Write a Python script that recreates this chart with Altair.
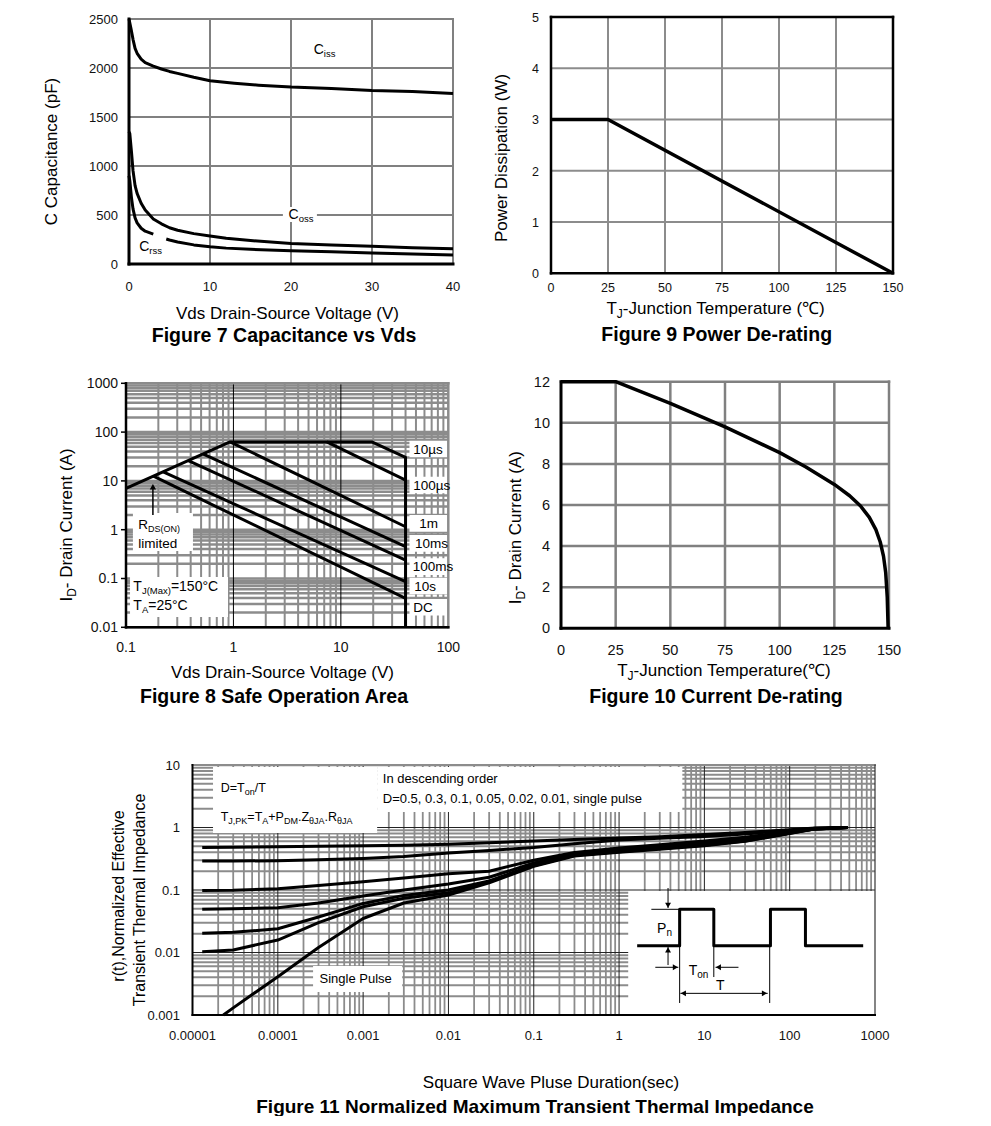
import altair as alt
import pandas as pd

FONT = "Liberation Sans"
INK = "#000000"
GRAY = "#8c8c8c"
LABEL = "#111111"
OFF = 8  # page margin: chart coordinates = page coordinates - 8

# ---------------- Figure 7 : Capacitance vs Vds ----------------
f7_x_ticks = [0, 10, 20, 30, 40]
f7_x_labels = ["0", "10", "20", "30", "40"]
f7_y_ticks = [0, 500, 1000, 1500, 2000, 2500]
f7_y_labels = ["0", "500", "1000", "1500", "2000", "2500"]
f7_grid_x = [10, 20, 30]
f7_grid_y = [500, 1000, 1500, 2000]
f7_ciss_v = [0, 0.25, 0.5, 0.75, 1, 1.5, 2, 3, 4, 5, 6, 8, 10, 13, 16, 20, 25, 30, 35, 40]
f7_ciss_c = [2500, 2400, 2290, 2200, 2150, 2090, 2055, 2020, 1990, 1965, 1945, 1905, 1870, 1845, 1825, 1805, 1790, 1770, 1760, 1740]
f7_coss_v = [0, 0.1, 0.3, 0.5, 0.75, 1, 1.5, 2, 3, 4, 5, 6, 8, 10, 12, 15, 20, 25, 30, 35, 40]
f7_coss_c = [1350, 1330, 1150, 950, 800, 720, 620, 550, 460, 410, 370, 345, 310, 285, 262, 240, 210, 195, 180, 165, 155]
f7_crss_a_v = [0, 0.1, 0.3, 0.5, 0.75, 1, 1.5, 2, 3]
f7_crss_a_c = [900, 850, 680, 560, 470, 420, 365, 335, 305]
f7_crss_b_v = [4.6, 5, 6, 8, 10, 12, 15, 20, 25, 30, 35, 40]
f7_crss_b_c = [255, 245, 225, 195, 175, 162, 150, 135, 125, 112, 102, 92]
f7_lbl_ciss = (22.8, 2190)
f7_lbl_coss = (19.7, 510)
f7_lbl_crss = (1.25, 177)
f7_coss_box = ([19.0], [23.2], [582], [429])

# ---------------- Figure 9 : Power De-rating ----------------
f9_x_ticks = [0, 25, 50, 75, 100, 125, 150]
f9_x_labels = ["0", "25", "50", "75", "100", "125", "150"]
f9_y_ticks = [0, 1, 2, 3, 4, 5]
f9_y_labels = ["0", "1", "2", "3", "4", "5"]
f9_grid_x = [25, 50, 75, 100, 125]
f9_grid_y = [1, 2, 3, 4]
f9_temp = [0, 25, 150]
f9_power = [3, 3, 0]

# ---------------- Figure 8 : Safe Operation Area ----------------
f8_x_ticks = [0.1, 1, 10, 100]
f8_x_labels = ["0.1", "1", "10", "100"]
f8_y_ticks = [0.01, 0.1, 1, 10, 100, 1000]
f8_y_labels = ["0.01", "0.1", "1", "10", "100", "1000"]
f8_grid_x_minor = [m * 10.0 ** k for k in (-1, 0, 1) for m in range(2, 10)]
f8_grid_x_major = [1, 10]
f8_grid_y = [m * 10.0 ** k for k in (-2, -1, 0, 1, 2) for m in range(1, 10)]
f8_env_v = [0.1, 0.93, 19.4, 40, 40]
f8_env_i = [7.0, 63, 63, 30.4, 0.01]
f8_100us_v = [7.4, 40]
f8_100us_i = [63, 10.4]
f8_1ms_v = [0.93, 40]
f8_1ms_i = [63, 1.15]
f8_10ms_v = [0.525, 40]
f8_10ms_i = [35.5, 0.449]
f8_100ms_v = [0.38, 40]
f8_100ms_i = [26, 0.239]
f8_10s_v = [0.222, 40]
f8_10s_i = [15.3, 0.086]
f8_dc_v = [0.18, 40]
f8_dc_i = [12.5, 0.039]
f8_tag_text = ["10µs", "100µs", "1m", "10ms", "100ms", "10s", "DC"]
f8_tag_x = [47.2, 47.2, 53.7, 49.0, 46.7, 48.3, 47.2]
f8_tag_y = [45.1, 8.24, 1.35, 0.526, 0.175, 0.0702, 0.0257]
f8_tag_box_y0 = [30.5, 5.57, 0.91, 0.355, 0.118, 0.0474, 0.0174]
f8_tag_box_y1 = [66.7, 12.2, 2.0, 0.778, 0.259, 0.104, 0.038]
f8_tag_box_x = [43.5, 100]
f8_note_box_x0 = [0.116, 0.109]
f8_note_box_x1 = [0.42, 0.89]
f8_note_box_y0 = [0.366, 0.0163]
f8_note_box_y1 = [2.2, 0.107]
f8_rds_xy = (0.130, 1.31)
f8_lim_xy = (0.130, 0.526)
f8_tj_xy = (0.117, 0.068)
f8_ta_xy = (0.117, 0.0286)
f8_arrow = (0.178, 2.0, 7.6)  # x, tail y, head centre y

# ---------------- Figure 10 : Current De-rating ----------------
f10_x_ticks = [0, 25, 50, 75, 100, 125, 150]
f10_x_labels = ["0", "25", "50", "75", "100", "125", "150"]
f10_y_ticks = [0, 2, 4, 6, 8, 10, 12]
f10_y_labels = ["0", "2", "4", "6", "8", "10", "12"]
f10_grid_x = [25, 50, 75, 100, 125]
f10_grid_y = [2, 4, 6, 8, 10]
f10_temp = [0, 25, 50, 75, 100, 112, 125, 132, 137, 141, 144, 146, 147.5, 148.5, 149.2, 149.6]
f10_curr = [12, 12, 10.95, 9.8, 8.55, 7.85, 7.0, 6.45, 5.95, 5.4, 4.8, 4.2, 3.5, 2.7, 1.5, 0]

# ---------------- Figure 11 : Transient Thermal Impedance ----------------
f11_x_ticks = [0.00001, 0.0001, 0.001, 0.01, 0.1, 1, 10, 100, 1000]
f11_x_labels = ["0.00001", "0.0001", "0.001", "0.01", "0.1", "1", "10", "100", "1000"]
f11_y_ticks = [0.001, 0.01, 0.1, 1, 10]
f11_y_labels = ["0.001", "0.01", "0.1", "1", "10"]
f11_grid_x_minor = [m * 10.0 ** k for k in range(-5, 3) for m in range(2, 10)]
f11_grid_x_major = [0.0001, 0.001, 0.01, 0.1, 1, 10, 100]
f11_grid_y_minor = [m * 10.0 ** k for k in range(-3, 1) for m in range(2, 10)]
f11_grid_y_major = [0.01, 0.1, 1]
f11_t = [1.3e-5, 3e-5, 1e-4, 3e-4, 1e-3, 3e-3, 1e-2, 3e-2, 0.1, 0.3, 1, 3, 10, 30, 100, 200, 480]
f11_d050 = [0.48, 0.485, 0.49, 0.5, 0.51, 0.52, 0.54, 0.57, 0.61, 0.64, 0.68, 0.71, 0.77, 0.83, 0.92, 0.98, 1.0]
f11_d030 = [0.29, 0.29, 0.295, 0.305, 0.32, 0.345, 0.39, 0.43, 0.48, 0.55, 0.63, 0.67, 0.72, 0.79, 0.9, 0.97, 1.0]
f11_d010 = [0.098, 0.099, 0.105, 0.118, 0.136, 0.155, 0.182, 0.2, 0.3, 0.4, 0.47, 0.53, 0.61, 0.7, 0.87, 0.96, 1.0]
f11_d005 = [0.049, 0.05, 0.052, 0.062, 0.08, 0.1, 0.125, 0.16, 0.27, 0.38, 0.44, 0.49, 0.56, 0.65, 0.84, 0.95, 1.0]
f11_d002 = [0.0203, 0.021, 0.024, 0.037, 0.061, 0.082, 0.1, 0.14, 0.25, 0.37, 0.42, 0.47, 0.54, 0.63, 0.82, 0.95, 1.0]
f11_d001 = [0.0103, 0.011, 0.0158, 0.03, 0.054, 0.074, 0.09, 0.135, 0.245, 0.36, 0.41, 0.46, 0.52, 0.61, 0.81, 0.95, 1.0]
f11_sp_t = [2.3e-5, 3e-5, 1e-4, 3e-4, 1e-3, 3e-3, 1e-2, 3e-2, 0.1, 0.3, 1, 3, 10, 30, 100, 200, 480]
f11_sp = [0.001, 0.0013, 0.0041, 0.012, 0.035, 0.062, 0.083, 0.13, 0.24, 0.35, 0.4, 0.45, 0.51, 0.6, 0.8, 0.95, 1.0]
f11_box_x0 = [1.74e-5, 1.46e-3, 1.28, 2.59e-4]
f11_box_x1 = [1.46e-3, 5.52, 1000, 2.87e-3]
f11_box_y0 = [0.817, 1.77, 0.001, 0.00233]
f11_box_y1 = [9.29, 9.29, 0.0964, 0.00608]
f11_wave_t = [1.63, 5.13, 5.13, 12.9, 12.9, 59.5, 59.5, 153, 153, 727]
f11_wave_z = [0.01285, 0.01285, 0.0491, 0.0491, 0.01285, 0.01285, 0.0491, 0.0491, 0.01285, 0.01285]
f11_thin_x0 = [2.39, 3.75, 3.75, 2.66, 25.1, 5.13, 12.9, 58.3, 5.23]
f11_thin_x1 = [5.13, 3.75, 3.75, 4.95, 13.5, 5.13, 12.9, 58.3, 55.3]
f11_thin_y0 = [0.0491, 0.1076, 0.0063, 0.0058, 0.0058, 0.01225, 0.01225, 0.01225, 0.00222]
f11_thin_y1 = [0.0491, 0.0515, 0.01225, 0.0058, 0.0058, 0.001556, 0.00405, 0.001556, 0.00222]
f11_heads = [("triangle-down", 3.75, 0.057), ("triangle-up", 3.75, 0.011),
             ("triangle-right", 4.57, 0.0058), ("triangle-left", 14.6, 0.0058),
             ("triangle-left", 5.67, 0.00222), ("triangle-right", 50.6, 0.00222)]
f11_txt_d_xy = (2.14e-5, 4.40)
f11_txt_tj_xy = (2.14e-5, 1.49)
f11_txt_order_xy = (1.70e-3, 5.97)
f11_txt_list_xy = (1.70e-3, 2.93)
f11_txt_sp_xy = (8.17e-4, 0.00377)
f11_txt_pn_xy = (2.79, 0.0244)
f11_txt_ton_xy = (6.54, 0.00525)
f11_txt_t_xy = (15.4, 0.00302)

# ---------------- helpers ----------------
ONE = pd.DataFrame({"k": [0]})
AW = {" ": 278, "(": 333, ")": 333, "+": 584, ",": 278, "-": 333, ".": 278, "/": 278, "=": 584,
      "°": 400, "µ": 576, "θ": 556, "℃": 1000,
      "A": 667, "B": 667, "C": 722, "D": 722, "E": 667, "F": 611, "G": 778, "H": 722, "I": 278,
      "J": 500, "K": 667, "L": 556, "M": 833, "N": 722, "O": 778, "P": 667, "R": 722, "S": 667,
      "T": 611, "U": 722, "V": 667, "W": 944, "Z": 611,
      "a": 556, "b": 556, "c": 500, "d": 556, "e": 556, "f": 278, "g": 556, "h": 556, "i": 222,
      "j": 222, "k": 500, "l": 222, "m": 833, "n": 556, "o": 556, "p": 556, "r": 333, "s": 500,
      "t": 278, "u": 556, "v": 500, "w": 722, "x": 500, "y": 500, "z": 500}


def tw(s, size):
    return sum(AW.get(ch, 556) for ch in s) * size / 1000.0


class Panel:
    def __init__(self, xdom, ydom, xlog, ylog, box):
        l, t, r, b = [v - OFF for v in box]
        self.l, self.t, self.r, self.b = l, t, r, b
        self.xdom, self.ydom = xdom, ydom

        def sc(dom, rng, lg):
            if lg:
                return alt.Scale(type="log", domain=dom, range=rng, nice=False)
            return alt.Scale(domain=dom, range=rng, nice=False, zero=False)
        self.xs = sc(xdom, [l, r], xlog)
        self.ys = sc(ydom, [b, t], ylog)
        self.layers = []

    def X(self, f):
        return alt.X(f + ":Q", scale=self.xs, axis=None)

    def Y(self, f):
        return alt.Y(f + ":Q", scale=self.ys, axis=None)

    def vgrid(self, vals, color, width, cap="butt"):
        df = pd.DataFrame({"v": vals, "a": self.ydom[0], "b": self.ydom[1]})
        self.layers.append(alt.Chart(df).mark_rule(color=color, strokeWidth=width, strokeCap=cap).encode(
            x=self.X("v"), y=self.Y("a"), y2=alt.Y2("b")))

    def hgrid(self, vals, color, width, cap="butt"):
        df = pd.DataFrame({"v": vals, "a": self.xdom[0], "b": self.xdom[1]})
        self.layers.append(alt.Chart(df).mark_rule(color=color, strokeWidth=width, strokeCap=cap).encode(
            y=self.Y("v"), x=self.X("a"), x2=alt.X2("b")))

    def edges(self, sides, color, width):
        for s in sides:
            if s == "left":
                self.vgrid([self.xdom[0]], color, width, "square")
            elif s == "right":
                self.vgrid([self.xdom[1]], color, width, "square")
            elif s == "bottom":
                self.hgrid([self.ydom[0]], color, width, "square")
            else:
                self.hgrid([self.ydom[1]], color, width, "square")

    def boxes(self, x0, x1, y0, y1):
        df = pd.DataFrame({"x0": x0, "x1": x1, "y0": y0, "y1": y1})
        self.layers.append(alt.Chart(df).mark_rect(color="white", opacity=1).encode(
            x=self.X("x0"), x2=alt.X2("x1"), y=self.Y("y0"), y2=alt.Y2("y1")))

    def segs(self, x0, x1, y0, y1, width):
        df = pd.DataFrame({"x0": x0, "x1": x1, "y0": y0, "y1": y1})
        self.layers.append(alt.Chart(df).mark_rule(color=INK, strokeWidth=width).encode(
            x=self.X("x0"), x2=alt.X2("x1"), y=self.Y("y0"), y2=alt.Y2("y1")))

    def lines(self, series, width):
        rows = []
        for name, xs, ys in series:
            for i, (a, b) in enumerate(zip(xs, ys)):
                rows.append({"s": name, "o": i, "x": a, "y": b})
        self.layers.append(alt.Chart(pd.DataFrame(rows)).mark_line(
            color=INK, strokeWidth=width, strokeJoin="round").encode(
            x=self.X("x"), y=self.Y("y"), detail="s:N", order="o:Q"))

    def head(self, shape, x, y, size=40):
        self.layers.append(alt.Chart(pd.DataFrame({"x": [x], "y": [y]})).mark_point(
            shape=shape, filled=True, size=size, color=INK, opacity=1, strokeWidth=0).encode(
            x=self.X("x"), y=self.Y("y")))

    def xlabels(self, vals, labs, dist, size):
        df = pd.DataFrame({"v": vals, "lab": labs})
        self.layers.append(alt.Chart(df).mark_text(
            font=FONT, fontSize=size, color=LABEL, align="center", baseline="middle",
            dy=round(0.06 * size, 2)).encode(
            x=self.X("v"), y=alt.value(self.b + dist), text="lab:N"))

    def ylabels(self, vals, labs, gap, size):
        df = pd.DataFrame({"v": vals, "lab": labs})
        self.layers.append(alt.Chart(df).mark_text(
            font=FONT, fontSize=size, color=LABEL, align="right", baseline="middle",
            dy=round(0.06 * size, 2)).encode(
            y=self.Y("v"), x=alt.value(self.l - gap), text="lab:N"))

    def yticks(self, vals, size, width):
        df = pd.DataFrame({"v": vals})
        self.layers.append(alt.Chart(df).mark_rule(color=INK, strokeWidth=width).encode(
            y=self.Y("v"), x=alt.value(self.l - size), x2=alt.value(self.l)))

    def _text(self, pieces, xenc, yenc, data, align, angle, bold):
        base = pieces[0][1]
        if len(pieces) == 1:
            t, s, sh = pieces[0]
            self.layers.append(alt.Chart(data).mark_text(
                text=t, font=FONT, fontSize=s, align=align, baseline="alphabetic",
                dy=round(0.34 * s + sh, 2), angle=angle, color=INK,
                fontWeight="bold" if bold else "normal").encode(x=xenc, y=yenc))
            return
        total = sum(tw(t, s) for t, s, _ in pieces)
        off = {"left": 0.0, "center": -total / 2, "right": -total}[align]
        for t, s, sh in pieces:
            self.layers.append(alt.Chart(data).mark_text(
                text=t, font=FONT, fontSize=s, align="left", baseline="alphabetic",
                dx=round(off, 2), dy=round(0.34 * base + sh, 2), angle=angle, color=INK).encode(
                x=xenc, y=yenc))
            off += tw(t, s)

    def dtext(self, pieces, xy, align="left"):
        data = pd.DataFrame({"x": [xy[0]], "y": [xy[1]]})
        self._text(pieces, self.X("x"), self.Y("y"), data, align, 0, False)

    def ptext(self, pieces, rx, ry, angle=0, bold=False):
        self._text(pieces, alt.value(round(self.l + rx, 2)), alt.value(round(self.t + ry, 2)),
                   ONE, "center", angle, bold)

    def chart(self):
        return alt.layer(*self.layers)


# ---------------- Figure 7 ----------------
p7 = Panel([0, 40], [0, 2500], False, False, (129, 19, 453, 264))
p7.vgrid(f7_grid_x, "#808080", 2)
p7.hgrid(f7_grid_y, "#808080", 2)
p7.boxes(*f7_coss_box)
p7.edges(["top", "right"], "#808080", 2)
p7.lines([("ciss", f7_ciss_v, f7_ciss_c), ("coss", f7_coss_v, f7_coss_c),
          ("crss_a", f7_crss_a_v, f7_crss_a_c), ("crss_b", f7_crss_b_v, f7_crss_b_c)], 3)
p7.edges(["left", "bottom"], INK, 3)
p7.xlabels(f7_x_ticks, f7_x_labels, 22.7, 13)
p7.ylabels(f7_y_ticks, f7_y_labels, 11, 13)
p7.dtext([("C", 14, 0), ("iss", 9.5, 3)], f7_lbl_ciss)
p7.dtext([("C", 14, 0), ("oss", 9.5, 3)], f7_lbl_coss)
p7.dtext([("C", 14, 0), ("rss", 9.5, 3)], f7_lbl_crss)
p7.ptext([("Vds Drain-Source Voltage (V)", 17, 0)], 158.5, 294)
p7.ptext([("C Capacitance (pF)", 17, 0)], -77.3, 132.5, angle=270)
p7.ptext([("Figure 7 Capacitance vs Vds", 19.5, 0)], 155, 316, bold=True)

# ---------------- Figure 9 ----------------
p9 = Panel([0, 150], [0, 5], False, False, (551, 17, 893, 273.3))
p9.vgrid(f9_grid_x, GRAY, 2)
p9.hgrid(f9_grid_y, GRAY, 2)
p9.lines([("p", f9_temp, f9_power)], 3.5)
p9.edges(["left", "bottom", "top", "right"], INK, 2.5)
p9.xlabels(f9_x_ticks, f9_x_labels, 14.4, 12.5)
p9.ylabels(f9_y_ticks, f9_y_labels, 12, 12.5)
p9.ptext([("T", 17, 0), ("J", 12, 4), ("-Junction Temperature (℃)", 17, 0)], 165.7, 291.3)
p9.ptext([("Power Dissipation (W)", 17, 0)], -49.3, 141, angle=270)
p9.ptext([("Figure 9 Power De-rating", 19.5, 0)], 165.7, 317.3, bold=True)

# ---------------- Figure 8 ----------------
p8 = Panel([0.1, 100], [0.01, 1000], True, True, (126, 383.3, 448.3, 627.3))
p8.hgrid(f8_grid_y, GRAY, 2.5)
p8.vgrid(f8_grid_x_minor, GRAY, 2)
p8.vgrid(f8_grid_x_major, INK, 1)
p8.boxes([f8_tag_box_x[0]] * len(f8_tag_text), [f8_tag_box_x[1]] * len(f8_tag_text),
         f8_tag_box_y0, f8_tag_box_y1)
p8.boxes(f8_note_box_x0, f8_note_box_x1, f8_note_box_y0, f8_note_box_y1)
p8.edges(["top", "right"], GRAY, 2.5)
p8.lines([("env", f8_env_v, f8_env_i), ("100us", f8_100us_v, f8_100us_i),
          ("1ms", f8_1ms_v, f8_1ms_i), ("10ms", f8_10ms_v, f8_10ms_i),
          ("100ms", f8_100ms_v, f8_100ms_i), ("10s", f8_10s_v, f8_10s_i),
          ("dc", f8_dc_v, f8_dc_i)], 3)
p8.segs([f8_arrow[0]], [f8_arrow[0]], [f8_arrow[1]], [f8_arrow[2]], 1.5)
p8.head("triangle-up", f8_arrow[0], f8_arrow[2], 40)
p8.edges(["left", "bottom"], INK, 2.5)
p8.yticks(f8_y_ticks, 5, 1.5)
p8.xlabels(f8_x_ticks, f8_x_labels, 19.4, 14)
p8.ylabels(f8_y_ticks, f8_y_labels, 8, 14)
for t, x, y in zip(f8_tag_text, f8_tag_x, f8_tag_y):
    p8.dtext([(t, 13.5, 0)], (x, y))
p8.dtext([("R", 13.5, 0), ("DS(ON)", 9, 3)], f8_rds_xy)
p8.dtext([("limited", 13.5, 0)], f8_lim_xy)
p8.dtext([("T", 14, 0), ("J(Max)", 9.5, 3), ("=150°C", 14, 0)], f8_tj_xy)
p8.dtext([("T", 14, 0), ("A", 9.5, 3), ("=25°C", 14, 0)], f8_ta_xy)
p8.ptext([("Vds Drain-Source Voltage (V)", 17, 0)], 156.5, 288.7)
p8.ptext([("I", 17, 0), ("D", 12, 4), ("- Drain Current (A)", 17, 0)], -59.3, 141.7, angle=270)
p8.ptext([("Figure 8 Safe Operation Area", 19.5, 0)], 148, 312.7, bold=True)

# ---------------- Figure 10 ----------------
p10 = Panel([0, 150], [0, 12], False, False, (561, 381.7, 889, 628.3))
p10.vgrid(f10_grid_x, "#808080", 2.5)
p10.hgrid(f10_grid_y, "#808080", 2.5)
p10.edges(["top", "right"], "#808080", 2.5)
p10.lines([("i", f10_temp, f10_curr)], 3.5)
p10.edges(["left", "bottom"], INK, 3)
p10.xlabels(f10_x_ticks, f10_x_labels, 21.7, 14.5)
p10.ylabels(f10_y_ticks, f10_y_labels, 11, 14.5)
p10.ptext([("T", 17, 0), ("J", 12, 4), ("-Junction Temperature(℃)", 17, 0)], 164, 288.3)
p10.ptext([("I", 17, 0), ("D", 12, 4), ("- Drain Current (A)", 17, 0)], -46, 146, angle=270)
p10.ptext([("Figure 10 Current De-rating", 19.5, 0)], 155, 314.3, bold=True)

# ---------------- Figure 11 ----------------
p11 = Panel([0.00001, 1000], [0.001, 10], True, True, (192.5, 765, 875, 1015))
p11.hgrid(f11_grid_y_minor, GRAY, 2)
p11.vgrid(f11_grid_x_minor, GRAY, 1.8)
p11.hgrid(f11_grid_y_major, "#222222", 1)
p11.vgrid(f11_grid_x_major, "#222222", 1)
p11.boxes(f11_box_x0, f11_box_x1, f11_box_y0, f11_box_y1)
p11.edges(["top"], GRAY, 2)
p11.edges(["right"], "#333333", 1.2)
p11.lines([("d050", f11_t, f11_d050), ("d030", f11_t, f11_d030), ("d010", f11_t, f11_d010),
           ("d005", f11_t, f11_d005), ("d002", f11_t, f11_d002), ("d001", f11_t, f11_d001),
           ("sp", f11_sp_t, f11_sp)], 3)
p11.lines([("wave", f11_wave_t, f11_wave_z)], 3)
p11.segs(f11_thin_x0, f11_thin_x1, f11_thin_y0, f11_thin_y1, 1)
for shape, x, y in f11_heads:
    p11.head(shape, x, y, 35)
p11.edges(["left", "bottom"], INK, 2)
p11.xlabels(f11_x_ticks, f11_x_labels, 20, 13)
p11.ylabels(f11_y_ticks, f11_y_labels, 12.5, 13)
p11.dtext([("D=T", 12.5, 0), ("on", 9, 3), ("/T", 12.5, 0)], f11_txt_d_xy)
p11.dtext([("T", 12.5, 0), ("J,PK", 9, 3), ("=T", 12.5, 0), ("A", 9, 3), ("+P", 12.5, 0),
           ("DM", 9, 3), (".Z", 12.5, 0), ("θJA", 9, 3), (".R", 12.5, 0), ("θJA", 9, 3)], f11_txt_tj_xy)
p11.dtext([("In descending order", 13, 0)], f11_txt_order_xy)
p11.dtext([("D=0.5, 0.3, 0.1, 0.05, 0.02, 0.01, single pulse", 13, 0)], f11_txt_list_xy)
p11.dtext([("Single Pulse", 13, 0)], f11_txt_sp_xy, align="center")
p11.dtext([("P", 14, 0), ("n", 10, 3)], f11_txt_pn_xy)
p11.dtext([("T", 14, 0), ("on", 10, 3)], f11_txt_ton_xy)
p11.dtext([("T", 14, 0)], f11_txt_t_xy, align="center")
p11.ptext([("Square Wave Pluse Duration(sec)", 17, 0)], 358.5, 317)
p11.ptext([("r(t),Normalized Effective", 16, 0)], -74.2, 131, angle=270)
p11.ptext([("Transient Thermal Impedance", 16, 0)], -53.2, 135, angle=270)
p11.ptext([("Figure 11 Normalized Maximum Transient Thermal Impedance", 19, 0)], 342.5, 341.5, bold=True)

chart = alt.layer(p7.chart(), p9.chart(), p8.chart(), p10.chart(), p11.chart()).resolve_scale(
    x="independent", y="independent").properties(
    width=967, height=1108, padding=0, background="white",
    autosize=alt.AutoSizeParams(type="none")).configure(font=FONT).configure_view(stroke=None)

chart.save("out.html", embed_options={"renderer": "svg", "actions": False})
